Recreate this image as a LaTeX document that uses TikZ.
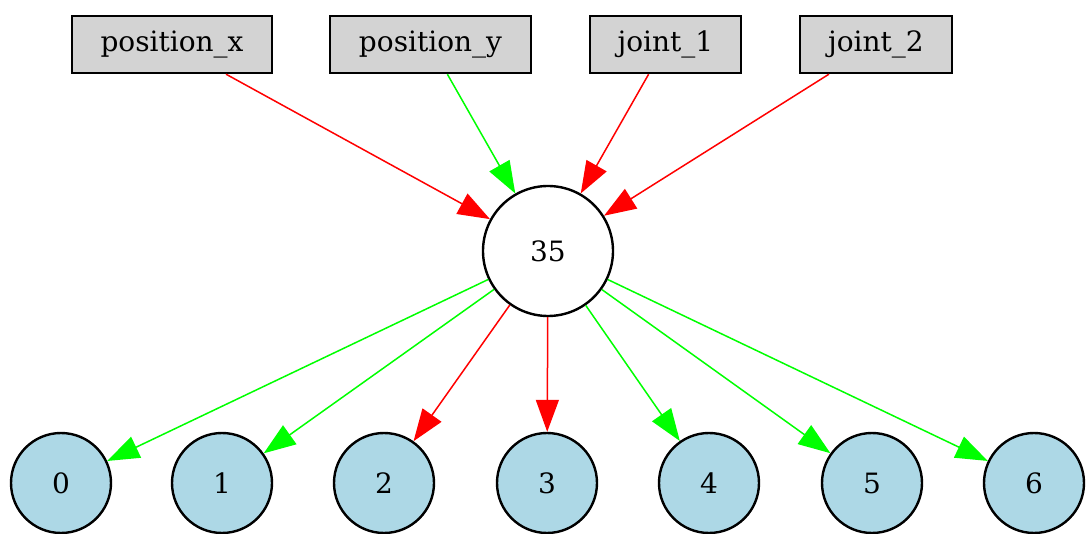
\documentclass[tikz,border=0pt]{standalone}
\usepackage{fontspec}
\setmainfont{DejaVu Serif}
\usetikzlibrary{arrows.meta}
\definecolor{edgered}{HTML}{FF0000}
\definecolor{edgegreen}{HTML}{00FF00}
\definecolor{nodeblue}{HTML}{ADD8E6}
\definecolor{boxgray}{HTML}{D3D3D3}
\tikzset{
  inbox/.style={draw=black, line width=2.4pt, fill=boxgray, rectangle, minimum width=#1, minimum height=57pt, inner sep=0pt, font=\fontsize{28}{32}\selectfont},
  hidden/.style={draw=black, line width=2.4pt, fill=white, circle, minimum size=130pt, inner sep=0pt, font=\fontsize{28}{32}\selectfont},
  outnode/.style={draw=black, line width=2.4pt, fill=nodeblue, circle, minimum size=100pt, inner sep=0pt, font=\fontsize{28}{32}\selectfont},
  conn/.style={line width=1.5pt, draw=#1, -{Triangle[length=32pt, width=23pt, fill=#1]}},
}
\begin{document}
\begin{tikzpicture}[x=1pt, y=-1pt]
\useasboundingbox (0,0) rectangle (1088,534);
\node[inbox=200pt] (px) at (172,44.5) {position\_x};
\node[inbox=201pt] (py) at (430.5,44.5) {position\_y};
\node[inbox=151pt] (j1) at (665.5,44.5) {joint\_1};
\node[inbox=152pt] (j2) at (876,44.5) {joint\_2};
\node[hidden] (h) at (548,251) {35};
\node[outnode] (o0) at (61,483) {0};
\node[outnode] (o1) at (222,483) {1};
\node[outnode] (o2) at (384,483) {2};
\node[outnode] (o3) at (547,483) {3};
\node[outnode] (o4) at (709,483) {4};
\node[outnode] (o5) at (872,483) {5};
\node[outnode] (o6) at (1034,483) {6};
\draw[conn=edgered] (px) -- (h);
\draw[conn=edgegreen] (py) -- (h);
\draw[conn=edgered] (j1) -- (h);
\draw[conn=edgered] (j2) -- (h);
\draw[conn=edgegreen] (h) -- (o0);
\draw[conn=edgegreen] (h) -- (o1);
\draw[conn=edgered] (h) -- (o2);
\draw[conn=edgered] (h) -- (o3);
\draw[conn=edgegreen] (h) -- (o4);
\draw[conn=edgegreen] (h) -- (o5);
\draw[conn=edgegreen] (h) -- (o6);
\end{tikzpicture}
\end{document}
